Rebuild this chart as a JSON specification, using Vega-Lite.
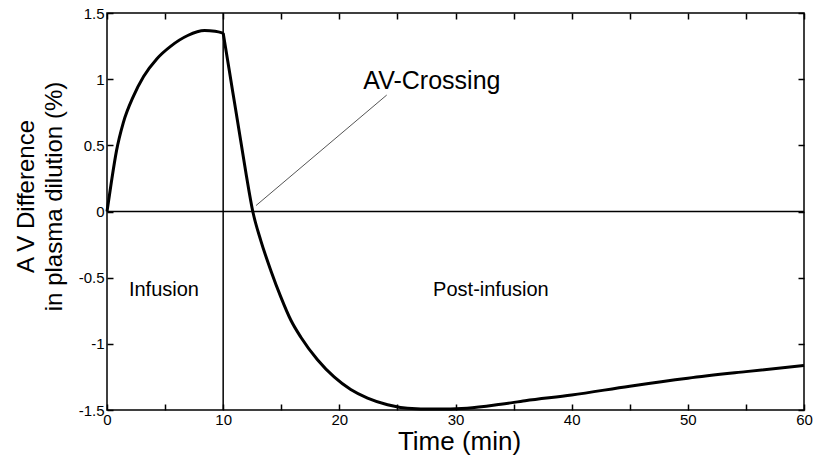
{
  "$schema": "https://vega.github.io/schema/vega-lite/v6.json",
  "width": 697,
  "height": 397,
  "autosize": {"type": "none"},
  "padding": {"left": 107, "top": 13, "right": 25, "bottom": 47},
  "background": "white",
  "config": {
    "font": "Liberation Sans",
    "view": {"stroke": "#000", "strokeWidth": 1.5},
    "axis": {
      "domain": false,
      "grid": false,
      "tickColor": "#000",
      "tickWidth": 1.5,
      "labelColor": "#000",
      "labelFont": "Liberation Sans",
      "labelFontSize": 14,
      "titleColor": "#000",
      "titleFont": "Liberation Sans",
      "titleFontWeight": "normal"
    }
  },
  "datasets": {
    "curve": [
      {"t": 0, "v": 0, "phase": "infusion"},
      {"t": 0.38, "v": 0.225, "phase": "infusion"},
      {"t": 0.82, "v": 0.46, "phase": "infusion"},
      {"t": 1.4, "v": 0.67, "phase": "infusion"},
      {"t": 2.27, "v": 0.87, "phase": "infusion"},
      {"t": 3.15, "v": 1.02, "phase": "infusion"},
      {"t": 4.3, "v": 1.155, "phase": "infusion"},
      {"t": 5.5, "v": 1.25, "phase": "infusion"},
      {"t": 6.95, "v": 1.33, "phase": "infusion"},
      {"t": 8.4, "v": 1.367, "phase": "infusion"},
      {"t": 9.3, "v": 1.362, "phase": "infusion"},
      {"t": 10, "v": 1.348, "phase": "infusion"},
      {"t": 10, "v": 1.348, "phase": "post"},
      {"t": 10.5, "v": 1.08, "phase": "post"},
      {"t": 11, "v": 0.81, "phase": "post"},
      {"t": 11.5, "v": 0.54, "phase": "post"},
      {"t": 12, "v": 0.27, "phase": "post"},
      {"t": 12.55, "v": 0, "phase": "post"},
      {"t": 13.24, "v": -0.22, "phase": "post"},
      {"t": 14.1, "v": -0.445, "phase": "post"},
      {"t": 14.96, "v": -0.645, "phase": "post"},
      {"t": 15.82, "v": -0.82, "phase": "post"},
      {"t": 16.69, "v": -0.95, "phase": "post"},
      {"t": 18.12, "v": -1.12, "phase": "post"},
      {"t": 19.55, "v": -1.25, "phase": "post"},
      {"t": 20.98, "v": -1.345, "phase": "post"},
      {"t": 22.43, "v": -1.41, "phase": "post"},
      {"t": 24.15, "v": -1.46, "phase": "post"},
      {"t": 25.87, "v": -1.486, "phase": "post"},
      {"t": 28.16, "v": -1.493, "phase": "post"},
      {"t": 31, "v": -1.486, "phase": "post"},
      {"t": 33.9, "v": -1.457, "phase": "post"},
      {"t": 36, "v": -1.43, "phase": "post"},
      {"t": 40, "v": -1.387, "phase": "post"},
      {"t": 45, "v": -1.32, "phase": "post"},
      {"t": 50, "v": -1.26, "phase": "post"},
      {"t": 55, "v": -1.21, "phase": "post"},
      {"t": 60, "v": -1.163, "phase": "post"}
    ],
    "hline": [{"v": 0}],
    "vline": [{"t": 10}],
    "pointer": [{"t": 12.83, "v": 0.045, "t2": 24.08, "v2": 0.88}],
    "bigLabel": [{"t": 27.97, "v": 0.927, "label": "AV-Crossing"}],
    "phaseLabels": [
      {"t": 4.9, "v": -0.64, "label": "Infusion"},
      {"t": 33.05, "v": -0.64, "label": "Post-infusion"}
    ]
  },
  "resolve": {"axis": {"x": "independent", "y": "independent"}},
  "layer": [
    {
      "data": {"name": "curve"},
      "mark": {"type": "line", "color": "#000", "strokeWidth": 3, "interpolate": "monotone"},
      "encoding": {
        "x": {
          "field": "t", "type": "quantitative",
          "scale": {"domain": [0, 60], "nice": false, "zero": false},
          "axis": {
            "orient": "bottom",
            "values": [0, 5, 10, 15, 20, 25, 30, 35, 40, 45, 50, 55, 60],
            "labelExpr": "datum.value % 10 == 0 ? toString(datum.value) : ''",
            "tickSize": -6,
            "labelPadding": 8,
            "labelFontSize": 15,
            "labelFlush": false,
            "labelOverlap": false,
            "title": "Time (min)",
            "titleFontSize": 26,
            "titleBaseline": "alphabetic",
            "titleX": 352,
            "titleY": 39
          }
        },
        "y": {
          "field": "v", "type": "quantitative",
          "scale": {"domain": [-1.5, 1.5], "nice": false, "zero": false},
          "axis": {
            "orient": "left",
            "values": [-1.5, -1, -0.5, 0, 0.5, 1, 1.5],
            "labelExpr": "toString(datum.value)",
            "tickSize": -6,
            "labelPadding": 9,
            "labelFontSize": 15,
            "labelFlush": false,
            "labelOverlap": false,
            "title": ["A V Difference", "in plasma dilution (%)"],
            "titleFontSize": 24,
            "titleLineHeight": 28,
            "titleAngle": 270,
            "titleAlign": "center",
            "titleBaseline": "alphabetic",
            "titleX": -74,
            "titleY": 183
          }
        },
        "detail": {"field": "phase"}
      }
    },
    {
      "data": {"name": "hline"},
      "mark": {"type": "rule", "color": "#000", "strokeWidth": 1.5},
      "encoding": {
        "y": {
          "field": "v", "type": "quantitative",
          "axis": {
            "orient": "right",
            "values": [-1.5, -1, -0.5, 0, 0.5, 1, 1.5],
            "labels": false,
            "tickSize": -6,
            "title": null
          }
        }
      }
    },
    {
      "data": {"name": "vline"},
      "mark": {"type": "rule", "color": "#000", "strokeWidth": 1.5},
      "encoding": {
        "x": {
          "field": "t", "type": "quantitative",
          "axis": {
            "orient": "top",
            "values": [0, 5, 10, 15, 20, 25, 30, 35, 40, 45, 50, 55, 60],
            "labels": false,
            "tickSize": -6,
            "title": null
          }
        }
      }
    },
    {
      "data": {"name": "pointer"},
      "mark": {"type": "rule", "color": "#555", "strokeWidth": 1},
      "encoding": {
        "x": {"field": "t", "type": "quantitative", "axis": null},
        "y": {"field": "v", "type": "quantitative", "axis": null},
        "x2": {"field": "t2"},
        "y2": {"field": "v2"}
      }
    },
    {
      "data": {"name": "bigLabel"},
      "mark": {"type": "text", "fontSize": 25, "color": "#000", "align": "center", "baseline": "alphabetic", "font": "Liberation Sans"},
      "encoding": {
        "x": {"field": "t", "type": "quantitative", "axis": null},
        "y": {"field": "v", "type": "quantitative", "axis": null},
        "text": {"field": "label"}
      }
    },
    {
      "data": {"name": "phaseLabels"},
      "mark": {"type": "text", "fontSize": 20, "color": "#000", "align": "center", "baseline": "alphabetic", "font": "Liberation Sans"},
      "encoding": {
        "x": {"field": "t", "type": "quantitative", "axis": null},
        "y": {"field": "v", "type": "quantitative", "axis": null},
        "text": {"field": "label"}
      }
    }
  ]
}
